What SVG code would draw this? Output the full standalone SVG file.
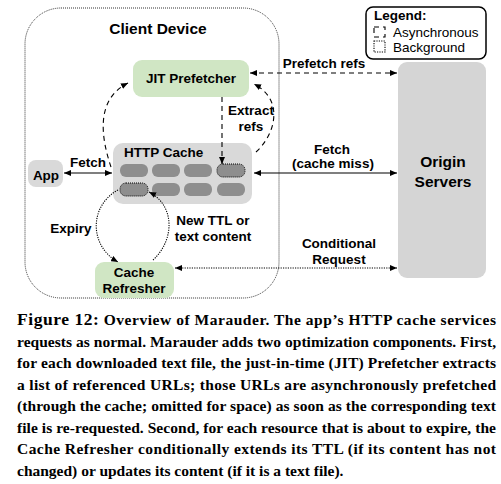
<svg xmlns="http://www.w3.org/2000/svg" width="501" height="484" viewBox="0 0 501 484">
<defs>
<marker id="ah" markerUnits="userSpaceOnUse" markerWidth="7" markerHeight="6" viewBox="0 0 7 6" refX="7" refY="3" orient="auto-start-reverse"><path d="M0,0 L7,3 L0,6 Z" fill="#000"/></marker>
</defs>
<style>
.lbl{font-family:"Liberation Sans",Arial,sans-serif;font-weight:bold;font-size:13.5px;fill:#000}
.big{font-family:"Liberation Sans",Arial,sans-serif;font-weight:bold;font-size:15.5px;fill:#000}
.reg{font-family:"Liberation Sans",Arial,sans-serif;font-size:13.5px;fill:#000}
.green{fill:#d0e6c4}
.gray{fill:#d9d9d9}
.cell{fill:#8e8e8e}
.dash{fill:none;stroke:#000;stroke-width:1.1;stroke-dasharray:5,4}
.dot{fill:none;stroke:#000;stroke-width:1.1;stroke-dasharray:1.2,1.2}
.solid{fill:none;stroke:#000;stroke-width:1.1}
.cap{font-family:"Liberation Serif","Times New Roman",serif;font-weight:bold;font-size:15.5px;fill:#000}
</style>
<rect x="25" y="8" width="254" height="290" rx="36" fill="none" stroke="#333" stroke-width="1" stroke-dasharray="1,1"/>
<text class="big" x="158" y="34" text-anchor="middle">Client Device</text>

<g id="legend">
<rect x="366" y="7" width="120" height="52" rx="7" fill="#fff" stroke="#000" stroke-width="1.5"/>
<text class="lbl" x="374" y="20">Legend:</text>
<rect x="374" y="27" width="11" height="10" class="dash" stroke-dasharray="4,3"/>
<text class="reg" x="393" y="37">Asynchronous</text>
<rect x="374" y="41" width="11" height="11" class="dot" stroke="#555"/>
<text class="reg" x="393" y="52">Background</text>
</g>

<g id="jit">
<rect x="133" y="60" width="116" height="37" rx="9" class="green"/>
<text class="lbl" x="191" y="83" text-anchor="middle" font-size="14">JIT Prefetcher</text>
</g>

<g id="origin">
<rect x="398" y="62" width="88" height="216" rx="9" fill="#d5d5d5"/>
<text class="big" x="443" y="167" text-anchor="middle">Origin</text>
<text class="big" x="443" y="187" text-anchor="middle">Servers</text>
</g>

<g id="app">
<rect x="28" y="160" width="35" height="27" rx="8" class="gray"/>
<text class="lbl" x="46" y="180" text-anchor="middle" font-size="16">App</text>
</g>

<g id="cache">
<rect x="113" y="143" width="139" height="61" rx="10" class="gray"/>
<text class="lbl" x="124" y="157">HTTP Cache</text>
<rect x="120" y="164" width="28" height="13" rx="6" class="cell"/>
<rect x="152" y="164" width="28" height="13" rx="6" class="cell"/>
<rect x="184" y="164" width="28" height="13" rx="6" class="cell"/>
<rect x="217" y="164" width="28" height="13" rx="6" class="cell" stroke="#000" stroke-width="1" stroke-dasharray="1,1"/>
<rect x="120" y="183" width="28" height="13" rx="6" class="cell" stroke="#000" stroke-width="1" stroke-dasharray="1,1"/>
<rect x="152" y="183" width="28" height="13" rx="6" class="cell"/>
<rect x="184" y="183" width="28" height="13" rx="6" class="cell"/>
<rect x="217" y="183" width="28" height="13" rx="6" class="cell"/>
</g>

<g id="refresher">
<rect x="95" y="262" width="79" height="36" rx="9" class="green"/>
<text class="lbl" x="134" y="277" text-anchor="middle">Cache</text>
<text class="lbl" x="134" y="293" text-anchor="middle">Refresher</text>
</g>

<g id="connectors">
<line x1="250" y1="73" x2="397" y2="73" class="dash" marker-start="url(#ah)" marker-end="url(#ah)"/>
<text class="lbl" x="324" y="68" text-anchor="middle">Prefetch refs</text>
<line x1="222" y1="97" x2="222" y2="164" class="dash" marker-end="url(#ah)"/>
<text class="lbl" x="251" y="115" text-anchor="middle">Extract</text>
<text class="lbl" x="251" y="131" text-anchor="middle">refs</text>
<path d="M256,152 C275,135 285,100 254,84" class="dash" marker-end="url(#ah)"/>
<path d="M111,167 C102,140 94,100 128,83" class="dash" marker-end="url(#ah)"/>
<line x1="64" y1="173" x2="112" y2="173" class="solid" marker-start="url(#ah)" marker-end="url(#ah)"/>
<text class="lbl" x="88" y="167" text-anchor="middle">Fetch</text>
<line x1="254" y1="173" x2="397" y2="173" class="solid" marker-start="url(#ah)" marker-end="url(#ah)"/>
<text class="lbl" x="332" y="154" text-anchor="middle">Fetch</text>
<text class="lbl" x="333" y="168" text-anchor="middle">(cache miss)</text>
<path d="M118,190 C90,205 88,245 118,262" class="dot" marker-end="url(#ah)"/>
<text class="lbl" x="71" y="233" text-anchor="middle">Expiry</text>
<path d="M153,260 C175,240 175,205 149,192" class="dot" marker-end="url(#ah)"/>
<text class="lbl" x="213" y="225" text-anchor="middle">New TTL or</text>
<text class="lbl" x="213" y="241" text-anchor="middle">text content</text>
<line x1="175" y1="268" x2="397" y2="268" class="dot" marker-start="url(#ah)" marker-end="url(#ah)"/>
<text class="lbl" x="339" y="248" text-anchor="middle">Conditional</text>
<text class="lbl" x="339" y="264" text-anchor="middle">Request</text>
</g>

<g id="caption">
<text class="cap" x="17" y="325" textLength="479" lengthAdjust="spacing"><tspan font-size="17.5">Figure 12:</tspan> Overview of Marauder. The app’s HTTP cache services</text>
<text class="cap" x="17" y="346.5" textLength="479" lengthAdjust="spacing">requests as normal. Marauder adds two optimization components. First,</text>
<text class="cap" x="17" y="368" textLength="479" lengthAdjust="spacing">for each downloaded text file, the just-in-time (JIT) Prefetcher extracts</text>
<text class="cap" x="17" y="389.5" textLength="479" lengthAdjust="spacing">a list of referenced URLs; those URLs are asynchronously prefetched</text>
<text class="cap" x="17" y="411" textLength="479" lengthAdjust="spacing">(through the cache; omitted for space) as soon as the corresponding text</text>
<text class="cap" x="17" y="432.5" textLength="479" lengthAdjust="spacing">file is re-requested. Second, for each resource that is about to expire, the</text>
<text class="cap" x="17" y="454" textLength="479" lengthAdjust="spacing">Cache Refresher conditionally extends its TTL (if its content has not</text>
<text class="cap" x="17" y="475.5">changed) or updates its content (if it is a text file).</text>
</g>
</svg>
